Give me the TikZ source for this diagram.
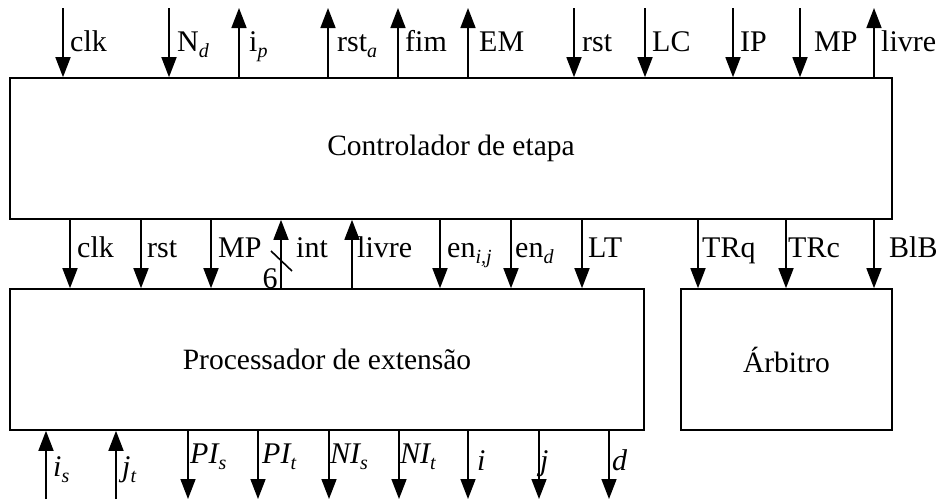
\documentclass[tikz,border=0pt]{standalone}
\usepackage{fontspec}
\setmainfont{Liberation Serif}
\usetikzlibrary{arrows.meta}
\newcommand\sbs[1]{\raisebox{-0.22em}{\fontsize{20}{20}\selectfont\itshape #1}}
\tikzset{
  sig/.style={line width=1.6pt, -{Triangle[width=15pt,length=20pt]}},
  box/.style={draw, line width=1.6pt, inner sep=0pt, font=\fontsize{29.5}{30}\selectfont},
  lbl/.style={anchor=base west, inner sep=0pt, font=\fontsize{30}{32}\selectfont},
}
\begin{document}
\begin{tikzpicture}[x=1pt,y=-1pt]
\useasboundingbox (0,0) rectangle (942,499);
% boxes
\node[box, minimum width=882pt, minimum height=141pt] (ctrl) at (451,148.5) {Controlador de etapa};
\node[box, minimum width=634pt, minimum height=141pt] (proc) at (327,359.5) {Processador de extensão};
\node[box, minimum width=211pt, minimum height=141pt] (arb) at (786.5,359.5) {Árbitro};
% top free ends
\foreach \n/\x in {tclk/63,tnd/169,tip/239,trsta/328,tfim/398,tem/468,trst/574,tlc/645,tipp/733,tmp/800,tlivre/874}
  \coordinate (\n) at (\x,8);
% bottom free ends
\foreach \n/\x in {bis/46,bjt/116,bpis/188,bpit/258,bnis/329,bnit/399,bi/468,bj/539,bd/609}
  \coordinate (\n) at (\x,499);
% top: inputs (down)
\foreach \n in {tclk,tnd,trst,tlc,tipp,tmp}
  \draw[sig] (\n) -- (\n |- ctrl.north);
% top: outputs (up)
\foreach \n in {tip,trsta,tfim,tem,tlivre}
  \draw[sig] (\n |- ctrl.north) -- (\n);
% middle: ctrl -> proc
\foreach \x in {70,141,211,440,511,582}
  \draw[sig] (ctrl.south -| {(\x,0)}) -- (proc.north -| {(\x,0)});
% middle: proc -> ctrl
\foreach \x in {281,352}
  \draw[sig] (proc.north -| {(\x,0)}) -- (ctrl.south -| {(\x,0)});
% middle: ctrl -> arb
\foreach \x in {698,786,874}
  \draw[sig] (ctrl.south -| {(\x,0)}) -- (arb.north -| {(\x,0)});
% bottom: inputs (up)
\foreach \n in {bis,bjt}
  \draw[sig] (\n) -- (\n |- proc.south);
% bottom: outputs (down)
\foreach \n in {bpis,bpit,bnis,bnit,bi,bj,bd}
  \draw[sig] (\n |- proc.south) -- (\n);
% bus slash
\coordinate (s1) at (271,251);
\coordinate (s2) at (292,271);
\draw[line width=1.6pt] (s1) -- (s2);
\node[anchor=base, inner sep=0pt, font=\fontsize{30}{32}\selectfont] (six) at (270,288) {6};
% top labels
\node[lbl] (l1) at (70,51) {clk};
\node[lbl] (l2) at (177,51) {N\sbs{d}};
\node[lbl] (l3) at (249,51) {i\sbs{p}};
\node[lbl] (l4) at (337,51) {rst\sbs{a}};
\node[lbl] (l5) at (405,51) {fim};
\node[lbl] (l6) at (479,51) {EM};
\node[lbl] (l7) at (582,51) {rst};
\node[lbl] (l8) at (652,51) {LC};
\node[lbl] (l9) at (740,51) {IP};
\node[lbl] (l10) at (814,51) {MP};
\node[lbl] (l11) at (881,51) {livre};
% middle labels
\node[lbl] (m1) at (77,257) {clk};
\node[lbl] (m2) at (147,257) {rst};
\node[lbl] (m3) at (218,257) {MP};
\node[lbl] (m4) at (296,257) {int};
\node[lbl] (m5) at (357,257) {livre};
\node[lbl] (m6) at (447,257) {en\sbs{i,j}};
\node[lbl] (m7) at (515,257) {en\sbs{d}};
\node[lbl] (m8) at (588,257) {LT};
\node[lbl] (m9) at (702,257) {TRq};
\node[lbl] (m10) at (788,257) {TRc};
\node[lbl] (m11) at (889,257) {BlB};
% bottom labels
\node[lbl] (b1) at (53,476) {\itshape i\sbs{s}};
\node[lbl] (b2) at (122,476) {\itshape j\sbs{t}};
\node[lbl] (b3) at (190,463) {\itshape PI\sbs{s}};
\node[lbl] (b4) at (262,463) {\itshape PI\sbs{t}};
\node[lbl] (b5) at (330,463) {\itshape NI\sbs{s}};
\node[lbl] (b6) at (400,463) {\itshape NI\sbs{t}};
\node[lbl] (b7) at (477,470) {\itshape i};
\node[lbl] (b8) at (540,470) {\itshape j};
\node[lbl] (b9) at (612,470) {\itshape d};
\end{tikzpicture}
\end{document}
